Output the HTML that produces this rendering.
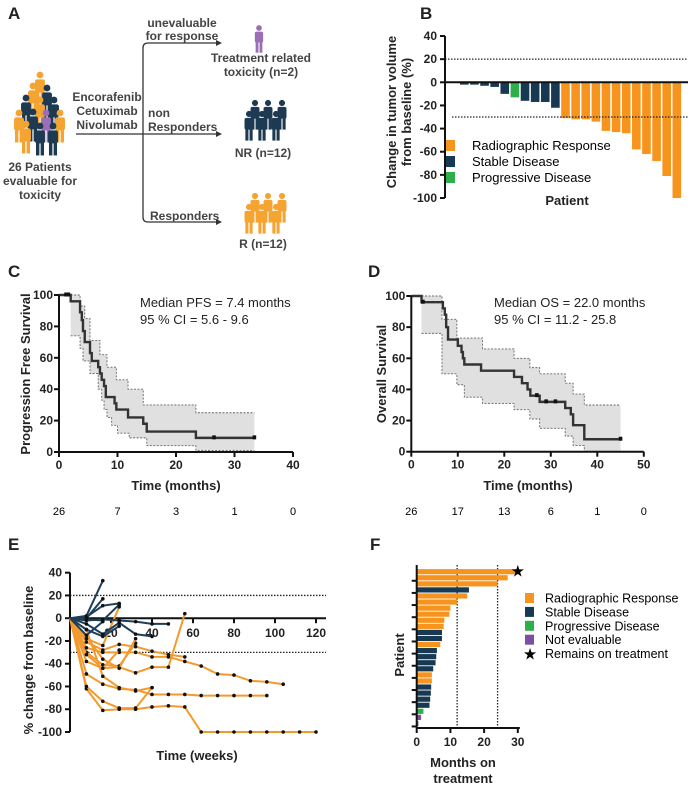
<!DOCTYPE html>
<html><head><meta charset="utf-8"><style>
body{margin:0;background:#fff}
svg{display:block;font-family:"Liberation Sans",sans-serif}
.tk{font-size:12px;font-weight:bold;fill:#222}
.lt{font-size:17px;font-weight:bold;fill:#222}
.ti{font-size:13px;font-weight:bold;fill:#222}
.ax{stroke:#111;stroke-width:2;fill:none}
.fa{font-size:12px;font-weight:bold;fill:#444}
</style></head><body>
<svg id="fig" width="696" height="800" viewBox="0 0 696 800">
<!-- Panel letters -->
<text class="lt" x="8" y="19">A</text>
<text class="lt" x="420" y="19">B</text>
<text class="lt" x="8" y="277">C</text>
<text class="lt" x="368" y="277">D</text>
<text class="lt" x="8" y="550">E</text>
<text class="lt" x="370" y="550">F</text>

<!-- Panel A -->
<g id="pa">
<text class="fa" x="40" y="171" text-anchor="middle">26 Patients</text>
<text class="fa" x="40" y="185" text-anchor="middle">evaluable for</text>
<text class="fa" x="40" y="199" text-anchor="middle">toxicity</text>
<text class="fa" x="107" y="101" text-anchor="middle">Encorafenib</text>
<text class="fa" x="107" y="115" text-anchor="middle">Cetuximab</text>
<text class="fa" x="107" y="129" text-anchor="middle">Nivolumab</text>
<path d="M76 134 H218 M143 48 Q143 43 148 43 H218 M143 48 V217 Q143 222 148 222 H218" stroke="#333" stroke-width="1.3" fill="none"/>
<path d="M216 131 L222 134 L216 137Z M216 40 L222 43 L216 46Z M216 219 L222 222 L216 225Z" fill="#333"/>
<text class="fa" x="182" y="27" text-anchor="middle">unevaluable</text>
<text class="fa" x="182" y="40" text-anchor="middle">for response</text>
<text class="fa" x="148" y="117">non</text>
<text class="fa" x="148" y="131">Responders</text>
<text class="fa" x="150" y="220">Responders</text>
<text class="fa" x="261" y="62" text-anchor="middle">Treatment related</text>
<text class="fa" x="261" y="76" text-anchor="middle">toxicity (n=2)</text>
<text class="fa" x="263" y="157" text-anchor="middle">NR (n=12)</text>
<text class="fa" x="263" y="248" text-anchor="middle">R (n=12)</text>
</g>

<!-- Panel B -->
<g id="pb">
<text class="ti" transform="translate(396,112) rotate(-90)" text-anchor="middle">Change in tumor volume</text>
<text class="ti" transform="translate(411,112) rotate(-90)" text-anchor="middle">from baseline (%)</text>
<text class="ti" x="567" y="205" text-anchor="middle">Patient</text>
</g>
<!-- Panel C -->
<g id="pc">
<text class="ti" transform="translate(30,374) rotate(-90)" text-anchor="middle">Progression Free Survival</text>
<text class="ti" x="176" y="490" text-anchor="middle">Time (months)</text>
<text x="140" y="307" font-size="13" fill="#222">Median PFS =  7.4 months</text>
<text x="140" y="324" font-size="13" fill="#222">95 % CI = 5.6 - 9.6</text>
</g>
<!-- Panel D -->
<g id="pd">
<text class="ti" transform="translate(386,374) rotate(-90)" text-anchor="middle">Overall Survival</text>
<text class="ti" x="528" y="490" text-anchor="middle">Time (months)</text>
<text x="494" y="307" font-size="13" fill="#222">Median OS = 22.0 months</text>
<text x="494" y="324" font-size="13" fill="#222">95 % CI = 11.2 - 25.8</text>
</g>
<!-- Panel E -->
<g id="pe">
<text class="ti" transform="translate(33,660) rotate(-90)" text-anchor="middle">% change from baseline</text>
<text class="ti" x="197" y="760" text-anchor="middle">Time (weeks)</text>
</g>
<!-- Panel F -->
<g id="pf">
<text class="ti" transform="translate(404,655) rotate(-90)" text-anchor="middle">Patient</text>
<text class="ti" x="463" y="767" text-anchor="middle">Months on</text>
<text class="ti" x="463" y="783" text-anchor="middle">treatment</text>
</g>
</svg>
<script>
// ---------- DATA ----------
const bValues = [-2,-2,-3,-4,-10,-13,-16,-17,-17,-22,-31,-32,-32,-34,-42,-43,-44,-58,-62,-68,-81,-100];
const bStatus = ['SD','SD','SD','SD','SD','PD','SD','SD','SD','SD','RR','RR','RR','RR','RR','RR','RR','RR','RR','RR','RR','RR'];
const bTicks = [40,20,0,-20,-40,-60,-80,-100];
const bLegend = ['Radiographic Response','Stable Disease','Progressive Disease'];

const pfsTimes = [0,2.0,3.6,3.9,4.1,4.4,5.3,5.6,6.7,7.0,7.3,7.7,8.0,9.5,9.8,11.8,14.4,15.0,23.4];
const pfsSurv = [100,96,89,84,77,70,63,58,54,50,46,42,35,31,27,22,18,13,9];
const pfsEnd = 33.4;
const pfsUpT = [2,3.6,4.4,5.3,7.0,8.2,9.8,11.8,14.4,23.4];
const pfsUpV = [100,93,85,71,62,54,46,40,30,25];
const pfsLoT = [2,3.6,4.1,5.3,6.7,7.3,7.7,8.2,9.0,10,12,15,23.4];
const pfsLoV = [74,66,58,50,40,33,27,22,17,12,9,4,1];
const pfsCensT = [1.2,1.6,26.5,33.4];
const pfsCensV = [100,100,9,9];
const pfsXTicks = [0,10,20,30,40];
const pfsRisk = [26,7,3,1,0];

const osTimes = [0,2.2,6.8,7.2,7.5,7.9,10,10.8,11.1,11.4,15,22.1,23.8,25.0,25.6,27.6,33.1,34.3,34.8,37.2];
const osSurv = [100,96,92,88,80,72,68,64,60,56,52,48,44,40,36,32,28,24,17,8];
const osEnd = 45;
const osUpT = [2.2,6.6,9.8,15.3,22.1,25.5,27.6,33.1,34.8,37.2];
const osUpV = [100,85,73,66,60,54,50,44,37,30];
const osLoT = [2.2,6.6,9.8,11.4,15.3,22.1,25.5,27.6,33.1,34.8,37.2];
const osLoV = [76,50,43,35,31,27,21,15,10,4,0];
const osCensT = [2.5,27,29,31,45];
const osCensV = [96,36,32,32,8];
const osXTicks = [0,10,20,30,40,50];
const osRisk = [26,17,13,6,1,0];

const survYTicks = [0,20,40,60,80,100];

const eWeeks = [0,8,16,24,32,40,48,56,64,72,80,88,96,104,112,120];
const eOrange = [
 [0,-62,-81,-80,-80,-78,-77,-78,-100,-100,-100,-100,-100,-100,-100,-100],
 [0,-60,-73,-79,-79,-61],
 [0,-49,-58,-62,-63,-67,-67,-67,-68,-68,-68,-68,-68],
 [0,-38,-44,-43,-48,-43,-43,4],
 [0,-30,-41,-42,-22],
 [0,-26,-30,-30,-30,-34,-34,-38,-42,-49,-50,-55,-56,-58],
 [0,-21,-28,-23,-25,-29,-32,-34],
 [0,-16,-36,-44,-18],
 [0,-10,-51,-61,-64,-61],
 [0,-32,-44,-28],
 [0,-18,-24,10]
];
const eDark = [
 [0,2,33],
 [0,0,17],
 [0,1,11,13],
 [0,-1,-2,12],
 [0,-2,-1,-2,-3,-5,-5],
 [0,-10,-16,-7],
 [0,-5,-14,-4,-14,-16],
 [0,-15,-3]
];
const eYTicks = [40,20,0,-20,-40,-60,-80,-100];
const eXTicks = [20,40,60,80,100,120];

const fMonths = [30,27,24,15.5,15,12,10,9.7,8.2,8,7.5,7.5,7,6,5.8,5.6,4.9,4.5,4.5,4.3,4.2,4,3.8,2,1.3,0.5];
const fStatus = ['RR','RR','RR','SD','RR','RR','RR','RR','RR','RR','SD','SD','RR','SD','SD','SD','SD','RR','RR','SD','SD','SD','SD','PD','NE','NE'];
const fOngoing = [true,false,false,false,false,false,false,false,false,false,false,false,false,false,false,false,false,false,false,false,false,false,false,false,false,false];
const fXTicks = [0,10,20,30];
const fLegend = ['Radiographic Response','Stable Disease','Progressive Disease','Not evaluable','Remains on treatment'];

// ---------- helpers ----------
const NS='http://www.w3.org/2000/svg';
const COL={RR:'#f7941d',SD:'#173a52',PD:'#2db04b',NE:'#7d4fa0'};
function mk(tag,attrs,parent,name,inter){
  const el=document.createElementNS(NS,tag);
  for(const k in attrs) el.setAttribute(k,attrs[k]);
  
  
  parent.appendChild(el);
  return el;
}
function txt(parent,x,y,s,cls,anchor,name){
  const t=mk('text',{x:x,y:y,'text-anchor':anchor||'middle'},parent,name,false);
  if(cls) t.setAttribute('class',cls);
  t.textContent=s;return t;
}

// ---------- Panel A icons ----------
const pa=document.getElementById('pa');
function person(x,y,h,c,name){
  const g=mk('g',{},pa,name,false);
  mk('circle',{cx:x,cy:y,r:h*0.11,fill:c},g,'person-head',false);
  mk('rect',{x:x-h*0.16,y:y+h*0.14,width:h*0.32,height:h*0.42,rx:h*0.07,fill:c},g,'person-body',false);
  mk('rect',{x:x-h*0.13,y:y+h*0.45,width:h*0.11,height:h*0.5,fill:c},g,'person-leg',false);
  mk('rect',{x:x+h*0.02,y:y+h*0.45,width:h*0.11,height:h*0.5,fill:c},g,'person-leg',false);
}
const O='#f5a431',D='#1d3a52',P='#9b6fb5';
[[40,75,O],[33,86,O],[47,88,D],[26,98,D],[40,100,O],[54,100,D],[19,113,O],[33,112,D],[46,113,P],[60,113,O],[26,124,O],[40,126,D],[53,126,D]].forEach(p=>person(p[0],p[1],31,p[2],'crowd-person'));
person(259,28,26,P,'toxicity-person');
[[255,103],[268,103],[282,103],[249,114],[262,114],[276,114]].forEach(p=>person(p[0],p[1],28,D,'nr-person'));
[[255,196],[268,196],[282,196],[249,207],[262,207],[276,207]].forEach(p=>person(p[0],p[1],28,O,'r-person'));

// ---------- Panel B ----------
const pb=document.getElementById('pb');
const bY=v=>82.3-v*(162/140);
const bX=i=>464.3+i*10.12;
mk('line',{x1:445,y1:bY(20),x2:688,y2:bY(20),stroke:'#222','stroke-width':1.3,'stroke-dasharray':'1.5,1.5'},pb,'threshold-20',false);
bValues.forEach((v,i)=>{
  mk('rect',{x:bX(i)-4.3,y:bY(0),width:8.6,height:bY(v)-bY(0),fill:COL[bStatus[i]]},pb,'waterfall-bar',false);
});
mk('line',{x1:452,y1:bY(-30),x2:688,y2:bY(-30),stroke:'#222','stroke-width':1.3,'stroke-dasharray':'1.5,1.5'},pb,'threshold-minus30',false);
mk('line',{x1:445,y1:bY(0),x2:688,y2:bY(0),stroke:'#111','stroke-width':2},pb,'zero-line',false);
mk('line',{x1:445,y1:bY(40),x2:445,y2:bY(-100),class:'ax'},pb,'b-y-axis',false);
bTicks.forEach(t=>{
  mk('line',{x1:440,y1:bY(t),x2:445,y2:bY(t),stroke:'#111','stroke-width':2},pb,'b-y-tick',false);
  txt(pb,437,bY(t)+4,t,'tk','end','b-y-tick-label');
});
bLegend.forEach((s,i)=>{
  mk('rect',{x:446,y:140+i*16,width:9,height:11,fill:[COL.RR,COL.SD,COL.PD][i]},pb,'b-legend-swatch',false);
  txt(pb,472,150+i*16,s,null,'start','b-legend-entry').setAttribute('font-size','13');
});

// ---------- KM ----------
function km(g,X,Y,times,surv,end,upT,upV,loT,loV,censT,censV,xt,risk,pref){
  let pts=[];
  upT.forEach((t,i)=>{const t2=i+1<upT.length?upT[i+1]:end;pts.push([X(t),Y(upV[i])],[X(t2),Y(upV[i])]);});
  let lo=[];
  loT.forEach((t,i)=>{const t2=i+1<loT.length?loT[i+1]:end;lo.push([X(t),Y(loV[i])],[X(t2),Y(loV[i])]);});
  const poly=pts.concat(lo.slice().reverse());
  mk('polygon',{points:poly.map(p=>p.join(',')).join(' '),fill:'#e0e0e0'},g,pref+'-ci-band',false);
  mk('polyline',{points:pts.map(p=>p.join(',')).join(' '),fill:'none',stroke:'#666','stroke-width':0.9,'stroke-dasharray':'2,1.5'},g,pref+'-ci-upper',false);
  mk('polyline',{points:lo.map(p=>p.join(',')).join(' '),fill:'none',stroke:'#666','stroke-width':0.9,'stroke-dasharray':'2,1.5'},g,pref+'-ci-lower',false);
  let s=[];
  times.forEach((t,i)=>{const t2=i+1<times.length?times[i+1]:end;s.push([X(t),Y(surv[i])],[X(t2),Y(surv[i])]);});
  mk('polyline',{points:s.map(p=>p.join(',')).join(' '),fill:'none',stroke:'#333','stroke-width':2.4},g,pref+'-survival-curve',false);
  censT.forEach((t,i)=>mk('rect',{x:X(t)-1.8,y:Y(censV[i])-2.5,width:3.6,height:4,fill:'#111'},g,pref+'-censor-mark',false));
  const x0=X(0),xe=X(xt[xt.length-1]);
  mk('line',{x1:x0,y1:Y(0),x2:xe,y2:Y(0),class:'ax'},g,pref+'-x-axis',false);
  mk('line',{x1:x0,y1:Y(0),x2:x0,y2:Y(100),class:'ax'},g,pref+'-y-axis',false);
  xt.forEach((t,i)=>{
    mk('line',{x1:X(t),y1:Y(0),x2:X(t),y2:Y(0)+5,stroke:'#111','stroke-width':2},g,pref+'-x-tick',false);
    txt(g,X(t),Y(0)+17,t,'tk','middle',pref+'-x-tick-label');
    txt(g,X(t),515,risk[i],null,'middle',pref+'-at-risk').setAttribute('font-size','11');
  });
  survYTicks.forEach(t=>{
    mk('line',{x1:x0-5,y1:Y(t),x2:x0,y2:Y(t),stroke:'#111','stroke-width':2},g,pref+'-y-tick',false);
    txt(g,x0-6,Y(t)+4,t,'tk','end',pref+'-y-tick-label');
  });
}
const cX=t=>59+t*5.85, cY=v=>452-v*1.57;
km(document.getElementById('pc'),cX,cY,pfsTimes,pfsSurv,pfsEnd,pfsUpT,pfsUpV,pfsLoT,pfsLoV,pfsCensT,pfsCensV,pfsXTicks,pfsRisk,'pfs');
const dX=t=>411.3+t*4.65, dY=v=>451.7-v*1.557;
km(document.getElementById('pd'),dX,dY,osTimes,osSurv,osEnd,osUpT,osUpV,osLoT,osLoV,osCensT,osCensV,osXTicks,osRisk,'os');

// ---------- Panel E ----------
const pe=document.getElementById('pe');
const eX=w=>70+w*2.05, eY=v=>618.2-v*1.138;
[20,-30].forEach(v=>mk('line',{x1:70,y1:eY(v),x2:326,y2:eY(v),stroke:'#222','stroke-width':1.3,'stroke-dasharray':'1.5,1.5'},pe,'e-threshold-line',false));
mk('line',{x1:70,y1:eY(0),x2:326,y2:eY(0),class:'ax'},pe,'e-x-axis',false);
mk('line',{x1:70,y1:eY(40),x2:70,y2:eY(-100),class:'ax'},pe,'e-y-axis',false);
eYTicks.forEach(t=>{
  mk('line',{x1:65,y1:eY(t),x2:70,y2:eY(t),stroke:'#111','stroke-width':2},pe,'e-y-tick',false);
  txt(pe,62,eY(t)+4,t,'tk','end','e-y-tick-label');
});
eXTicks.forEach(t=>{
  mk('line',{x1:eX(t),y1:eY(0),x2:eX(t),y2:eY(0)+5,stroke:'#111','stroke-width':2},pe,'e-x-tick',false);
  txt(pe,eX(t),eY(0)+19,t,'tk','middle','e-x-tick-label');
});
function series(arr,col,name){
  arr.forEach(vals=>{
    const pts=vals.map((v,i)=>eX(eWeeks[i])+','+eY(v)).join(' ');
    mk('polyline',{points:pts,fill:'none',stroke:col,'stroke-width':2},pe,name,false);
    vals.forEach((v,i)=>{ if(i>0) mk('circle',{cx:eX(eWeeks[i]),cy:eY(v),r:1.8,fill:'#111'},pe,name+'-point',false);});
  });
}
series(eOrange,'#f39a2e','responder-line');
series(eDark,'#1d3f58','non-responder-line');

// ---------- Panel F ----------
const pf=document.getElementById('pf');
const fX=m=>416.7+m*3.37, fY=i=>571.7+i*6.07;
[12,24].forEach(m=>mk('line',{x1:fX(m),y1:565,x2:fX(m),y2:728,stroke:'#222','stroke-width':1.3,'stroke-dasharray':'1.5,1.5'},pf,'f-reference-line',false));
fMonths.forEach((m,i)=>{
  mk('rect',{x:fX(0),y:fY(i)-2.6,width:fX(m)-fX(0),height:5.2,fill:COL[fStatus[i]]},pf,'swimmer-bar',false);
  if(fOngoing[i]) txt(pf,fX(m),fY(i)+5,'★',null,'middle','ongoing-star').setAttribute('font-size','16');
});
mk('line',{x1:fX(0),y1:565,x2:fX(0),y2:728,class:'ax'},pf,'f-y-axis',false);
mk('line',{x1:fX(0),y1:728,x2:fX(30)+2,y2:728,class:'ax'},pf,'f-x-axis',false);
for(let k=0;k<13;k++) mk('line',{x1:fX(0)-5,y1:fY(2*k+1)+3,x2:fX(0),y2:fY(2*k+1)+3,stroke:'#111','stroke-width':2},pf,'f-y-tick',false);
fXTicks.forEach(t=>{
  mk('line',{x1:fX(t),y1:728,x2:fX(t),y2:733,stroke:'#111','stroke-width':2},pf,'f-x-tick',false);
  txt(pf,fX(t),746,t,'tk','middle','f-x-tick-label');
});
fLegend.forEach((s,i)=>{
  const y=598+i*13.9;
  if(i<4) mk('rect',{x:525,y:y-5,width:9,height:10,fill:[COL.RR,COL.SD,COL.PD,COL.NE][i]},pf,'f-legend-swatch',false);
  else txt(pf,530,y+6,'★',null,'middle','f-legend-star').setAttribute('font-size','16');
  txt(pf,545,y+4.5,s,null,'start','f-legend-entry').setAttribute('font-size','12.5');
});
</script>
</body></html>
